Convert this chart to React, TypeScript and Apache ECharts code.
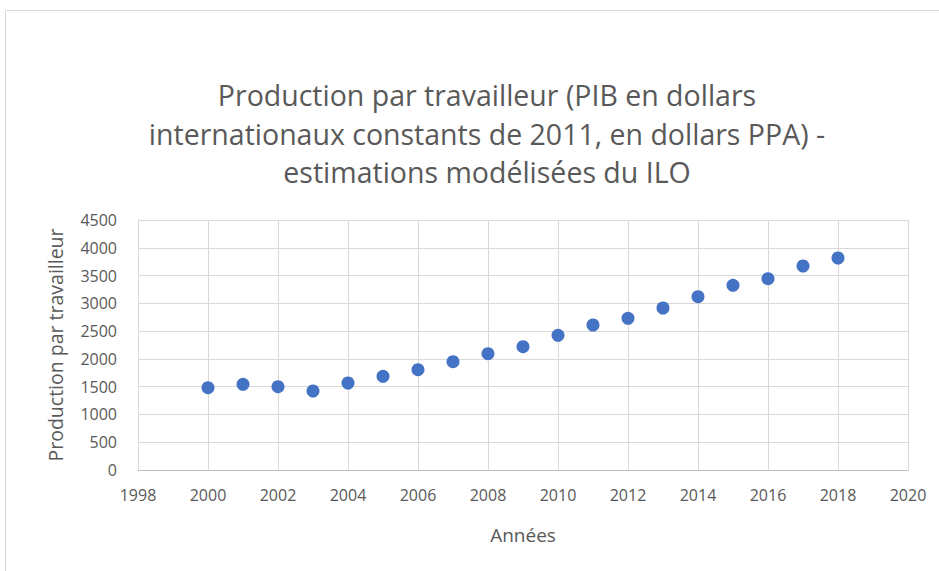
import React, { useEffect, useRef } from "react";
import * as echarts from "echarts";

const years = [2000, 2001, 2002, 2003, 2004, 2005, 2006, 2007, 2008, 2009, 2010, 2011, 2012, 2013, 2014, 2015, 2016, 2017, 2018];
const production = [1481, 1542, 1500, 1422, 1566, 1686, 1806, 1950, 2094, 2220, 2424, 2610, 2730, 2916, 3120, 3324, 3444, 3672, 3816];

const titleText = "Production par travailleur (PIB en dollars\ninternationaux constants de 2011, en dollars PPA) -\nestimations modélisées du ILO";
const xName = "Années";
const yName = "Production par travailleur";

const FONT = "'Open Sans', 'Noto Sans', sans-serif";
const TXT = "#595959";

export default function App() {
  const ref = useRef<HTMLDivElement>(null);
  useEffect(() => {
    if (!ref.current) return;
    const chart = echarts.init(ref.current, null, { renderer: "svg" });
    chart.setOption({
      animation: false,
      backgroundColor: "#ffffff",
      title: {
        text: titleText,
        left: 482,
        top: 71,
        textAlign: "center",
        textStyle: { fontFamily: FONT, fontSize: 28.5, fontWeight: "normal", color: TXT, lineHeight: 38.5, align: "center" },
      },
      graphic: [
        {
          type: "rect",
          shape: { x: 5.5, y: 10.5, width: 940, height: 570 },
          style: { fill: "none", stroke: "#d9d9d9", lineWidth: 1 },
          silent: true,
        },
      ],
      grid: { left: 138, top: 220, width: 770, height: 250, containLabel: false },
      xAxis: {
        type: "value",
        min: 1998,
        max: 2020,
        interval: 2,
        name: xName,
        nameLocation: "middle",
        nameGap: 55,
        nameTextStyle: { fontFamily: FONT, fontSize: 19, color: TXT },
        axisLine: { show: true, lineStyle: { color: "#bfbfbf", width: 1 } },
        axisTick: { show: false },
        axisLabel: { fontFamily: FONT, fontSize: 16, color: TXT, margin: 17, formatter: (v: number) => String(v) },
        splitLine: { show: true, lineStyle: { color: "#d9d9d9", width: 1 } },
      },
      yAxis: {
        type: "value",
        min: 0,
        max: 4500,
        interval: 500,
        name: yName,
        nameLocation: "middle",
        nameGap: 73,
        nameTextStyle: { fontFamily: FONT, fontSize: 19.5, color: TXT },
        axisLine: { show: true, lineStyle: { color: "#d9d9d9", width: 1 } },
        axisTick: { show: false },
        axisLabel: { fontFamily: FONT, fontSize: 16, color: TXT, margin: 21, formatter: (v: number) => String(v) },
        splitLine: { show: true, lineStyle: { color: "#d9d9d9", width: 1 } },
      },
      series: [
        {
          type: "scatter",
          data: years.map((y, i) => [y, production[i]]),
          symbol: "circle",
          symbolSize: 13,
          itemStyle: { color: "#4472C4", opacity: 1 },
        },
      ],
    });
    return () => chart.dispose();
  }, []);
  return <div ref={ref} style={{ position: "fixed", left: 0, top: 0, width: 939, height: 571 }} />;
}
